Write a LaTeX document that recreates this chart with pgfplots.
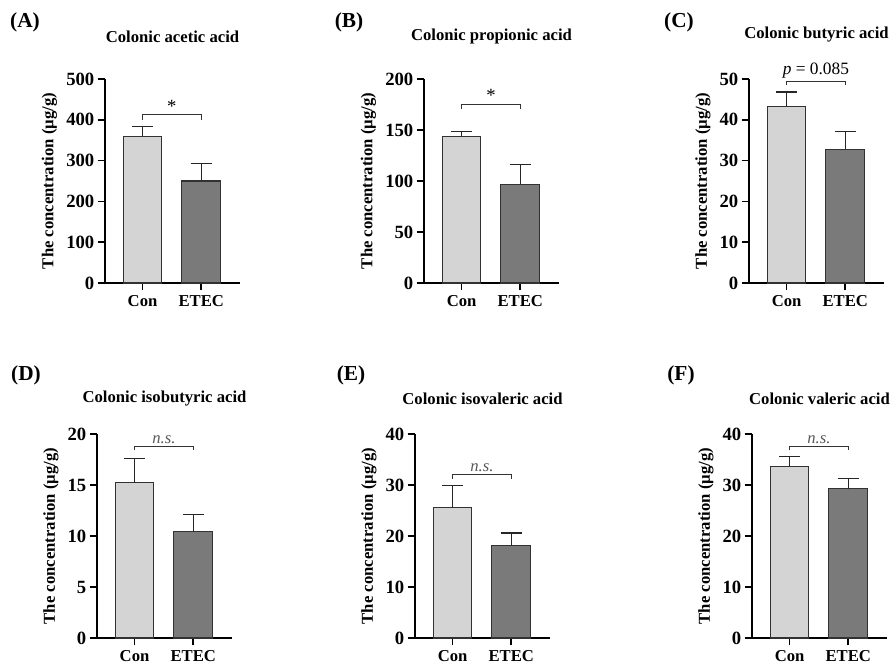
\documentclass[border=0pt]{standalone}
\usepackage{fontspec}
\setmainfont{Liberation Serif}
\usepackage{pgfplots}
\pgfplotsset{compat=1.18}
\definecolor{conc}{RGB}{212,212,212}
\definecolor{etec}{RGB}{122,122,122}
\definecolor{edge}{RGB}{50,50,50}
\newcommand{\fs}{\fontsize{12.5}{14}\selectfont\bfseries}
\newcommand{\fst}{\fontsize{14}{16}\selectfont\bfseries}
\pgfplotsset{
  sfa/.style={
    scale only axis, width=101.25pt, height=153pt,
    axis x line*=bottom, axis y line*=left,
    xmin=0.36, xmax=2.66, ymin=0,
    xtick={1,2}, xticklabels={Con,ETEC},
    tick align=outside, major tick length=5.5pt,
    axis line style={line width=1.3pt},
    every tick/.style={line width=1.3pt, black},
    tick label style={font=\fs},
    yticklabel style={font=\fst, xshift=1pt},
    /pgf/number format/assume math mode=true,
    ylabel={The concentration (µg/g)},
    ylabel style={font=\fs},
    title style={font=\fs, at={(0.5,1)}, anchor=center},
    ybar, bar width=0.66, bar shift=0pt,
    clip=false,
    anchor=south west,
  },
  conbar/.style={fill=conc, draw=edge, line width=0.8pt,
    error bars/.cd, y dir=plus, y explicit,
    error bar style={line width=0.9pt, black!85},
    error mark options={rotate=90, mark size=7.9pt, line width=0.9pt, black!85}},
  etecbar/.style={fill=etec, draw=edge, line width=0.8pt,
    error bars/.cd, y dir=plus, y explicit,
    error bar style={line width=0.9pt, black!85},
    error mark options={rotate=90, mark size=7.9pt, line width=0.9pt, black!85}},
}
\newcommand{\bracket}[3]{\draw[line width=0.7pt, black!80] (axis cs:1,#1) -- (axis cs:1,#2) -- (axis cs:2,#2) -- (axis cs:2,#1);}
\begin{document}
\begin{tikzpicture}
\useasboundingbox (0,0) rectangle (671.25pt,499.5pt);
\node[font=\fontsize{16}{18}\selectfont\bfseries] at (18.75pt,483pt) {(A)};
\node[font=\fontsize{16}{18}\selectfont\bfseries] at (261.75pt,483pt) {(B)};
\node[font=\fontsize{16}{18}\selectfont\bfseries] at (509.25pt,483pt) {(C)};
\node[font=\fontsize{16}{18}\selectfont\bfseries] at (19.5pt,218.25pt) {(D)};
\node[font=\fontsize{16}{18}\selectfont\bfseries] at (263.25pt,218.25pt) {(E)};
\node[font=\fontsize{16}{18}\selectfont\bfseries] at (510.75pt,218.25pt) {(F)};
% A
\begin{axis}[sfa, at={(78.75pt,287.25pt)}, ymax=500, ytick={0,100,...,500},
  title={Colonic acetic acid}, title style={yshift=25.5pt}]
\addplot[conbar] coordinates {(1,360) +- (0,23)};
\addplot[etecbar] coordinates {(2,250) +- (0,43)};
\bracket{400}{412}{}
\node[above, font=\fontsize{14}{16}\selectfont, inner sep=1pt] at (axis cs:1.5,414) {*};
\end{axis}
% B
\begin{axis}[sfa, at={(318pt,287.25pt)}, ymax=200, ytick={0,50,...,200},
  title={Colonic propionic acid}, title style={yshift=25.5pt}]
\addplot[conbar] coordinates {(1,143.5) +- (0,5)};
\addplot[etecbar] coordinates {(2,97) +- (0,19.5)};
\bracket{171}{175}{}
\node[above, font=\fontsize{14}{16}\selectfont, inner sep=1pt] at (axis cs:1.5,176) {*};
\end{axis}
% C
\begin{axis}[sfa, at={(561.75pt,287.25pt)}, ymax=50, ytick={0,10,...,50},
  title={Colonic butyric acid}, title style={yshift=27pt}]
\addplot[conbar] coordinates {(1,43.3) +- (0,3.5)};
\addplot[etecbar] coordinates {(2,32.8) +- (0,4.4)};
\bracket{48.5}{49.5}{}
\node[above, font=\fontsize{13}{15}\selectfont, inner sep=1.5pt] at (axis cs:1.5,49.6) {\textit{p} = 0.085};
\end{axis}
% D
\begin{axis}[sfa, at={(72.75pt,21pt)}, ymax=20, ytick={0,5,...,20},
  title={Colonic isobutyric acid}, title style={yshift=20.25pt}]
\addplot[conbar] coordinates {(1,15.2) +- (0,2.4)};
\addplot[etecbar] coordinates {(2,10.4) +- (0,1.7)};
\bracket{18.4}{18.8}{}
\node[above, font=\fontsize{12.5}{14}\selectfont\itshape, text=black!65, inner sep=1.5pt] at (axis cs:1.5,18.85) {n.s.};
\end{axis}
% E
\begin{axis}[sfa, at={(311.25pt,21pt)}, ymax=40, ytick={0,10,...,40},
  title={Colonic isovaleric acid}, title style={yshift=20.25pt}]
\addplot[conbar] coordinates {(1,25.5) +- (0,4.4)};
\addplot[etecbar] coordinates {(2,18.1) +- (0,2.5)};
\bracket{31.2}{32}{}
\node[above, font=\fontsize{12.5}{14}\selectfont\itshape, text=black!65, inner sep=1.5pt] at (axis cs:1.5,32.1) {n.s.};
\end{axis}
% F
\begin{axis}[sfa, at={(564pt,21pt)}, ymax=40, ytick={0,10,...,40},
  title={Colonic valeric acid}, title style={yshift=20.25pt}]
\addplot[conbar] coordinates {(1,33.7) +- (0,1.9)};
\addplot[etecbar] coordinates {(2,29.3) +- (0,1.9)};
\bracket{36.8}{37.6}{}
\node[above, font=\fontsize{12.5}{14}\selectfont\itshape, text=black!65, inner sep=1.5pt] at (axis cs:1.5,37.7) {n.s.};
\end{axis}
\end{tikzpicture}
\end{document}
